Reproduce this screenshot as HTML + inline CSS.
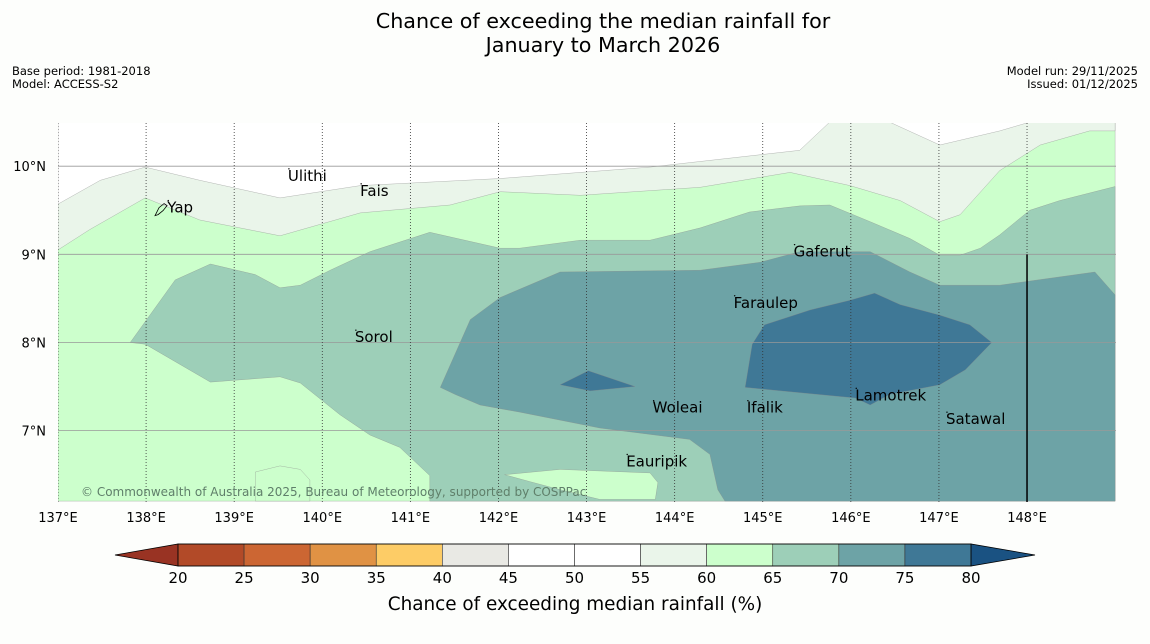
<!DOCTYPE html>
<html><head><meta charset="utf-8"><style>
body{margin:0;background:#fdfefc;font-family:"Liberation Sans","DejaVu Sans",sans-serif;}
svg{display:block}
</style></head><body>
<svg id="chart" width="1150" height="644" xmlns="http://www.w3.org/2000/svg" font-family="DejaVu Sans, Liberation Sans, sans-serif">
<rect width="1150" height="644" fill="#fdfefc"/>
<text x="603" y="28" text-anchor="middle" font-size="20.7" fill="#000">Chance of exceeding the median rainfall for</text>
<text x="603" y="52" text-anchor="middle" font-size="20.7" fill="#000">January to March 2026</text>
<text x="12" y="75" font-size="11.5">Base period: 1981-2018</text>
<text x="12" y="88" font-size="11.5">Model: ACCESS-S2</text>
<text x="1138" y="75" font-size="11.5" text-anchor="end">Model run: 29/11/2025</text>
<text x="1138" y="88" font-size="11.5" text-anchor="end">Issued: 01/12/2025</text>
<g id="map"></g>
<g id="cbar"></g>
</svg>
<script>
const lonTicks=[137,138,139,140,141,142,143,144,145,146,147,148];
const latTicks=[10,9,8,7];
const levels=[20,25,30,35,40,45,50,55,60,65,70,75,80];
const binColors=["#b24a28","#cc6633","#e09244","#fdcc66","#e9e9e4","#ffffff","#ffffff","#eaf5ea","#ccffcc","#9dcfb8","#6da3a6","#3f7896"];
const lowColor="#993323", highColor="#1a5282";
const contours=[
 {lvl:60,pts:[[137,6.2],[149,6.2],[149,10.5],[137,10.5]]},
 {lvl:55,pts:[[137,9.05],[137.36,9.28],[137.99,9.64],[138.61,9.39],[139.52,9.21],[140.43,9.47],[141.45,9.56],[142.02,9.71],[142.93,9.67],[144.29,9.76],[145.31,9.93],[145.99,9.78],[146.56,9.61],[147.01,9.37],[147.24,9.45],[147.69,9.95],[148.15,10.24],[148.71,10.40],[149,10.40],[149,10.5],[137,10.5]]},
 {lvl:50,pts:[[137,9.57],[137.48,9.84],[137.99,9.99],[138.61,9.84],[139.52,9.64],[140.43,9.78],[142.02,9.86],[143.72,9.99],[145.42,10.18],[145.76,10.5],[137,10.5]]},
 {lvl:50,pts:[[146.44,10.5],[147.01,10.24],[147.69,10.40],[148.03,10.5]]},
 {lvl:65,pts:[[137.82,8.0],[138.33,8.71],[138.73,8.89],[139.24,8.77],[139.52,8.62],[139.75,8.65],[140.09,8.82],[140.54,9.03],[141.22,9.25],[142.02,9.07],[142.24,9.07],[142.93,9.16],[143.72,9.16],[144.29,9.30],[144.85,9.48],[145.42,9.55],[145.76,9.56],[146.22,9.37],[146.67,9.18],[147.01,8.99],[147.24,8.99],[147.47,9.07],[147.69,9.22],[148.03,9.50],[148.37,9.61],[149,9.77],[149,6.2],[141.22,6.2],[141.22,6.49],[140.88,6.81],[140.54,6.95],[140.20,7.18],[139.75,7.54],[139.52,7.61],[138.73,7.55],[137.99,7.98]]},
 {lvl:60,pts:[[139.24,6.53],[139.52,6.60],[139.75,6.56],[139.86,6.44],[139.86,6.2],[139.24,6.2]]},
 {lvl:60,pts:[[142.07,6.50],[142.70,6.56],[143.72,6.52],[143.81,6.41],[143.78,6.22],[143.15,6.22],[142.70,6.33],[142.36,6.42]]},
 {lvl:70,pts:[[141.34,7.49],[141.68,8.26],[142.02,8.51],[142.70,8.80],[144.29,8.82],[144.97,8.91],[145.42,9.03],[146.22,9.03],[146.67,8.80],[147.01,8.65],[147.69,8.65],[148.77,8.80],[149,8.54],[149,6.2],[144.57,6.2],[144.49,6.33],[144.40,6.73],[144.17,6.90],[143.15,7.03],[142.24,7.21],[141.79,7.29],[141.51,7.41]]},
 {lvl:75,pts:[[144.80,7.49],[144.88,7.98],[145.02,8.20],[145.54,8.37],[145.99,8.48],[146.27,8.56],[146.56,8.43],[147.01,8.31],[147.35,8.20],[147.60,8.0],[147.30,7.69],[147.01,7.52],[146.44,7.41],[146.22,7.29],[146.05,7.37],[145.31,7.44]]},
 {lvl:75,pts:[[142.70,7.52],[143.02,7.68],[143.55,7.50],[143.04,7.45]]}
];
const islands=[["Ulithi",139.61,9.89],["Fais",140.43,9.72],["Yap",138.24,9.53],["Gaferut",145.35,9.03],["Faraulep",144.67,8.45],["Sorol",140.37,8.06],["Woleai",143.75,7.26],["Ifalik",144.82,7.26],["Lamotrek",146.05,7.40],["Satawal",147.08,7.13],["Eauripik",143.45,6.65]];
const x0=58,x1=1116,y0=123,y1=502;
const lonMin=137,lonMax=149.01,latMin=6.19,latMax=10.49;
const X=l=>x0+(l-lonMin)/(lonMax-lonMin)*(x1-x0);
const Y=l=>y1-(l-latMin)/(latMax-latMin)*(y1-y0);
const NS="http://www.w3.org/2000/svg";
function mk(t,a,p){const e=document.createElementNS(NS,t);for(const k in a)e.setAttribute(k,a[k]);p.appendChild(e);return e;}
const map=document.getElementById('map');
const cp=mk('clipPath',{id:'mc'},map);mk('rect',{x:x0,y:y0,width:x1-x0,height:y1-y0},cp);
const g=mk('g',{'clip-path':'url(#mc)'},map);
contours.forEach((c,i)=>{
 const p=mk('polygon',{points:c.pts.map(q=>X(q[0]).toFixed(1)+','+Y(q[1]).toFixed(1)).join(' '),fill:binColors[levels.indexOf(c.lvl)],stroke:'#888',"stroke-width":0.3},g);
 
 
});
latTicks.forEach(v=>{
 const l=mk('line',{x1:x0,x2:x1,y1:Y(v),y2:Y(v),stroke:'#999','stroke-width':0.8},g);
 
 
 const t=mk('text',{x:46,y:Y(v)+5,'text-anchor':'end','font-size':13},map);t.textContent=v+'°N';
 
 
});
lonTicks.forEach(v=>{
 const l=mk('line',{x1:X(v),x2:X(v),y1:y0,y2:y1,stroke:'#333','stroke-width':0.8,'stroke-dasharray':'1,2'},g);
 
 
 const t=mk('text',{x:X(v),y:522,'text-anchor':'middle','font-size':13},map);t.textContent=v+'°E';
 
 
});
const bl=mk('line',{x1:X(148),x2:X(148),y1:Y(9),y2:y1,stroke:'#000','stroke-width':1.5},g);


const yap=mk('path',{d:'M'+(X(138.17)-6)+','+(Y(9.53)+8)+' l4,-8 l5,-4 l3,2 l-4,5 l-5,4 z',fill:'none',stroke:'#000','stroke-width':0.8},g);


islands.forEach(s=>{
 const t=mk('text',{x:X(s[1]),y:Y(s[2])+5,'font-size':15},g);t.textContent=s[0];
 
 
 const d=mk('circle',{cx:X(s[1])+1,cy:Y(s[2])-7,r:0.7,fill:'#000'},g);
 
 
});
const cr=mk('text',{x:81,y:496,'font-size':12,fill:'#5f7f6a'},g);cr.textContent='© Commonwealth of Australia 2025, Bureau of Meteorology, supported by COSPPac';


const cb=document.getElementById('cbar');
const cx0=178,cx1=971,cy0=544,cy1=566;
const C=v=>cx0+(v-levels[0])/(levels[levels.length-1]-levels[0])*(cx1-cx0);
const lt=mk('polygon',{points:`${cx0},${cy0} ${cx0},${cy1} 115,555`,fill:lowColor,stroke:'#000','stroke-width':0.8},cb);


const rt=mk('polygon',{points:`${cx1},${cy0} ${cx1},${cy1} 1035,555`,fill:highColor,stroke:'#000','stroke-width':0.8},cb);


binColors.forEach((c,i)=>{
 const r=mk('rect',{x:C(levels[i]),y:cy0,width:C(levels[i+1])-C(levels[i]),height:cy1-cy0,fill:c,stroke:'#333','stroke-width':0.6},cb);
 
 
});
mk('rect',{x:cx0,y:cy0,width:cx1-cx0,height:cy1-cy0,fill:'none',stroke:'#000','stroke-width':0.8},cb);
levels.forEach(v=>{
 const t=mk('text',{x:C(v),y:583,'text-anchor':'middle','font-size':15},cb);t.textContent=v;
 
 
});
const cl=mk('text',{x:575,y:610,'text-anchor':'middle','font-size':18.4},cb);cl.textContent='Chance of exceeding median rainfall (%)';


</script>
</body></html>
